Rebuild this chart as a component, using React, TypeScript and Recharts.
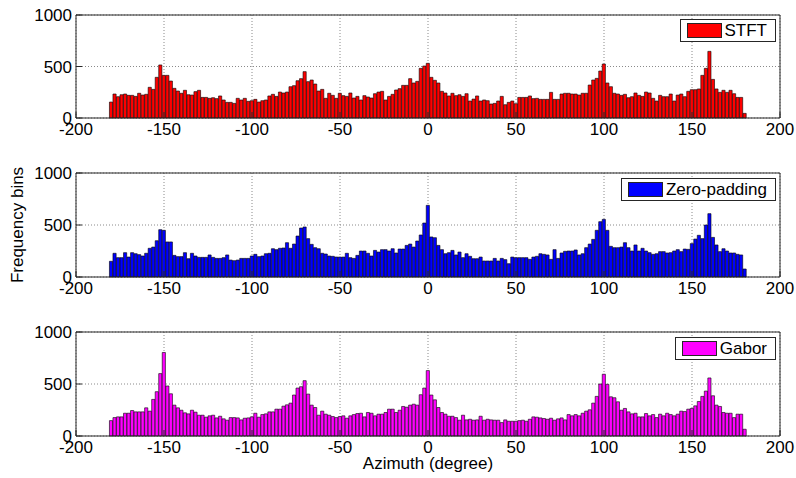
import React from 'react';
import { BarChart, Bar, XAxis, YAxis, CartesianGrid, Legend } from 'recharts';

// Histogram bins: centres from -180 to 180 degrees, 2 degrees wide
const BIN_START = -180;
const BIN_STEP = 2;

const stftCounts = [
  155, 233, 207, 226, 233, 220, 220, 210, 240, 223,
  230, 298, 278, 395, 515, 414, 414, 359, 288, 262,
  240, 269, 226, 223, 256, 269, 200, 200, 191, 197,
  188, 214, 175, 152, 152, 142, 191, 175, 191, 162,
  168, 181, 155, 168, 175, 214, 230, 210, 252, 243,
  252, 304, 314, 362, 382, 450, 353, 369, 330, 262,
  278, 191, 240, 220, 191, 240, 217, 210, 243, 194,
  210, 175, 217, 204, 194, 236, 252, 259, 175, 210,
  230, 272, 285, 317, 317, 382, 340, 356, 482, 505,
  531, 395, 366, 340, 259, 243, 214, 240, 217, 226,
  210, 236, 165, 184, 214, 165, 175, 168, 136, 142,
  165, 210, 129, 152, 165, 139, 200, 200, 200, 214,
  188, 191, 181, 181, 181, 249, 181, 181, 233, 240,
  240, 233, 233, 223, 240, 240, 320, 369, 385, 456,
  524, 340, 304, 240, 233, 220, 230, 197, 207, 243,
  220, 210, 252, 243, 191, 165, 220, 207, 207, 233,
  165, 223, 233, 207, 259, 275, 275, 282, 414, 482,
  647, 375, 282, 249, 269, 249, 269, 236, 200, 200,
  45,
];

const zeroPaddingCounts = [
  151, 228, 186, 186, 234, 192, 234, 224, 215, 202,
  228, 276, 288, 349, 455, 449, 337, 337, 208, 196,
  196, 234, 176, 228, 202, 189, 189, 189, 212, 189,
  179, 179, 186, 212, 163, 157, 163, 179, 179, 179,
  202, 218, 196, 202, 224, 228, 272, 263, 276, 279,
  330, 276, 317, 394, 471, 481, 369, 314, 282, 272,
  228, 221, 202, 199, 192, 192, 192, 228, 186, 179,
  208, 250, 250, 228, 202, 256, 240, 263, 263, 250,
  272, 231, 269, 269, 304, 317, 288, 346, 404, 519,
  689, 385, 378, 304, 263, 224, 234, 256, 212, 240,
  186, 224, 199, 176, 176, 192, 154, 154, 154, 179,
  154, 179, 167, 128, 192, 186, 186, 186, 186, 170,
  192, 199, 224, 218, 212, 170, 263, 179, 231, 247,
  250, 250, 260, 212, 224, 282, 317, 362, 449, 532,
  554, 449, 295, 282, 282, 288, 330, 282, 250, 308,
  250, 276, 250, 234, 218, 224, 244, 244, 231, 234,
  250, 263, 244, 269, 266, 321, 365, 401, 369, 500,
  609, 381, 308, 244, 272, 250, 231, 231, 218, 212,
  77,
];

const gaborCounts = [
  148, 177, 184, 184, 219, 219, 245, 232, 232, 232,
  271, 239, 352, 426, 600, 803, 481, 406, 297, 271,
  248, 223, 213, 248, 229, 200, 200, 181, 194, 200,
  174, 190, 165, 152, 177, 177, 174, 155, 171, 174,
  184, 219, 181, 206, 213, 232, 232, 258, 258, 287,
  300, 316, 394, 461, 474, 532, 403, 297, 274, 200,
  239, 210, 200, 187, 177, 187, 194, 171, 194, 206,
  216, 219, 184, 226, 219, 194, 210, 210, 226, 258,
  258, 226, 248, 284, 277, 297, 306, 297, 397, 461,
  629, 394, 348, 274, 226, 210, 190, 190, 177, 152,
  200, 155, 161, 152, 155, 190, 152, 161, 155, 152,
  152, 129, 155, 142, 142, 142, 148, 152, 142, 161,
  184, 181, 174, 168, 161, 171, 152, 165, 174, 155,
  206, 194, 206, 194, 219, 239, 252, 316, 381, 500,
  594, 497, 377, 368, 329, 248, 265, 232, 213, 219,
  184, 184, 216, 194, 206, 177, 210, 194, 219, 206,
  194, 210, 239, 235, 258, 265, 290, 332, 381, 432,
  558, 387, 297, 284, 226, 219, 219, 177, 210, 210,
  65,
];

const xTicks = [-200, -150, -100, -50, 0, 50, 100, 150, 200];
const yTicks = [0, 500, 1000];

const FONT = "'Liberation Sans', Arial, Helvetica, sans-serif";
const FS = 17;
const AXIS = '#262626';

const toRows = (counts: number[]) =>
  counts.map((c, i) => ({ az: BIN_START + i * BIN_STEP, count: c }));

type PanelProps = {
  top: number;
  plotHeight: number;
  bottomHeight: number;
  counts: number[];
  color: string;
  name: string;
  legendTop: number;
  yLabel?: string;
  xLabel?: string;
};

function Panel({ top, plotHeight, bottomHeight, counts, color, name, legendTop, yLabel, xLabel }: PanelProps) {
  const height = 15 + plotHeight + bottomHeight;
  const data = toRows(counts);
  const renderLegend = () => (
    <div
      style={{
        display: 'flex',
        alignItems: 'center',
        border: `1px solid ${AXIS}`,
        background: '#fff',
        padding: '0 8px 0 6px',
        boxSizing: 'border-box',
        height: 23,
        fontSize: FS,
        fontFamily: FONT,
        color: '#000',
        whiteSpace: 'nowrap',
      }}
    >
      <span
        style={{
          display: 'inline-block',
          width: 35,
          height: 15,
          background: color,
          border: `1px solid ${AXIS}`,
          boxSizing: 'border-box',
          marginRight: 3,
        }}
      />
      <span style={{ lineHeight: '20px' }}>{name}</span>
    </div>
  );
  return (
    <div style={{ position: 'absolute', left: 0, top, width: 796, height }}>
      <BarChart
        width={796}
        height={height}
        data={data}
        margin={{ top: 14, right: 15, bottom: 0, left: 0 }}
        barGap={0}
        barCategoryGap={0}
        style={{ fontFamily: FONT }}
      >
        <CartesianGrid stroke="#8a8a8a" strokeDasharray="1 2" />
        <XAxis
          xAxisId="top"
          orientation="top"
          type="number"
          domain={[-200, 200]}
          ticks={xTicks}
          height={1}
          tick={false}
          tickSize={-6}
          axisLine={{ stroke: AXIS }}
          tickLine={{ stroke: AXIS }}
        />
        <YAxis
          yAxisId="right"
          orientation="right"
          type="number"
          domain={[0, 1000]}
          ticks={yTicks}
          width={1}
          tick={false}
          tickSize={-6}
          axisLine={{ stroke: AXIS }}
          tickLine={{ stroke: AXIS }}
        />
        <XAxis
          dataKey="az"
          type="number"
          domain={[-200, 200]}
          ticks={xTicks}
          height={bottomHeight}
          tickSize={-6}
          tickMargin={11}
          axisLine={{ stroke: AXIS }}
          tickLine={{ stroke: AXIS }}
          tick={{ fill: '#000', fontSize: FS, fontFamily: FONT }}
          interval={0}
          label={
            xLabel
              ? { value: xLabel, position: 'insideBottom', offset: 7, fill: '#000', fontSize: FS, fontFamily: FONT }
              : undefined
          }
        />
        <YAxis
          type="number"
          domain={[0, 1000]}
          ticks={yTicks}
          width={76}
          tickSize={-6}
          tickMargin={10}
          axisLine={{ stroke: AXIS }}
          tickLine={{ stroke: AXIS }}
          tick={{ fill: '#000', fontSize: FS, fontFamily: FONT }}
          interval={0}
          label={
            yLabel
              ? {
                  value: yLabel,
                  angle: -90,
                  position: 'insideLeft',
                  offset: 17,
                  fill: '#000',
                  fontSize: FS,
                  fontFamily: FONT,
                  style: { textAnchor: 'middle' },
                }
              : undefined
          }
        />
        <Legend
          content={renderLegend}
          layout="vertical"
          align="center"
          verticalAlign="middle"
          wrapperStyle={{ right: 20, top: legendTop, width: 'auto' }}
        />
        <Bar
          dataKey="count"
          name={name}
          fill={color}
          stroke="#000"
          strokeWidth={0.6}
          barSize={3.52}
          isAnimationActive={false}
        />
      </BarChart>
    </div>
  );
}

export default function App() {
  return (
    <div
      style={{
        position: 'absolute',
        left: 0,
        top: 0,
        width: 796,
        height: 478,
        background: '#fff',
        overflow: 'hidden',
        fontFamily: FONT,
      }}
    >
      <Panel top={0} plotHeight={103} bottomHeight={30} counts={stftCounts} color="#ff0000" name="STFT" legendTop={19} />
      <Panel
        top={158}
        plotHeight={104}
        bottomHeight={30}
        counts={zeroPaddingCounts}
        color="#0000ff"
        name="Zero-padding"
        legendTop={20}
        yLabel="Frequency bins"
      />
      <Panel
        top={317}
        plotHeight={104}
        bottomHeight={40}
        counts={gaborCounts}
        color="#ff00ff"
        name="Gabor"
        legendTop={20}
        xLabel="Azimuth (degree)"
      />
    </div>
  );
}
